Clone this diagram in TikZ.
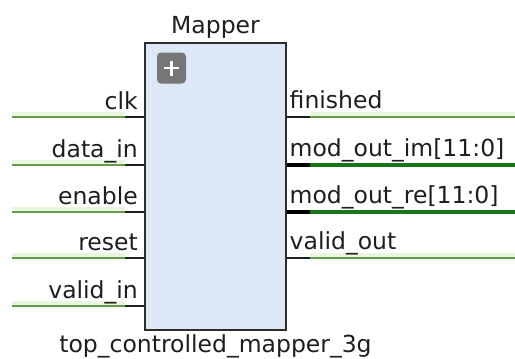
\documentclass[tikz,border=0pt]{standalone}
\usepackage{fontspec}
\setmainfont{DejaVu Sans}
\usetikzlibrary{calc}
\definecolor{boxfill}{RGB}{221,232,246}
\definecolor{boxline}{RGB}{45,45,45}
\definecolor{wiregreen}{RGB}{100,156,76}
\definecolor{wireglow}{RGB}{234,245,224}
\definecolor{busgreen}{RGB}{24,118,24}
\definecolor{stubdark}{RGB}{30,30,30}
\definecolor{btngray}{RGB}{118,118,118}
\definecolor{labeltext}{RGB}{30,30,30}
\tikzset{
  lbl/.style={font=\fontsize{23.5}{28}\selectfont, inner sep=0pt, text=labeltext},
  blockbox/.style={draw=boxline, line width=1.4pt, fill=boxfill},
  wire/.style={draw=wiregreen, line width=1.6pt},
  glow/.style={draw=wireglow, line width=4pt},
  stub/.style={draw=stubdark, line width=1.6pt},
  buswire/.style={draw=busgreen, line width=3.5pt},
  busstub/.style={draw=black, line width=3.5pt},
}
\begin{document}
\begin{tikzpicture}[x=1pt,y=-1pt]
\useasboundingbox (0,0) rectangle (515,359);

% the block
\node[blockbox, minimum width=141pt, minimum height=287pt] (blk) at (215.5,186.5) {};
\node[lbl, anchor=base] (title) at (215.5,33) {Mapper};
\node[lbl, anchor=base] (inst) at (215.5,352) {top\_controlled\_mapper\_3g};

% expand button
\node[fill=btngray, rounded corners=4pt, minimum width=29pt, minimum height=31pt, inner sep=0pt] (btn) at (171.5,68) {};
\draw[white, line width=2.2pt] ($(btn.center)+(-7.5,0)$) -- ($(btn.center)+(7.5,0)$);
\draw[white, line width=2.2pt] ($(btn.center)+(0,-7.5)$) -- ($(btn.center)+(0,7.5)$);

% input ports
\foreach \nm/\txt/\yy in {clk/clk/117, din/data\_in/165, en/enable/212, rst/reset/258, vin/valid\_in/306}{
  \coordinate (w\nm) at (12,\yy);
  \coordinate (s\nm) at (125,\yy);
  \coordinate (p\nm) at (145,\yy);
  \draw[glow] ($(w\nm)+(0,-3)$) -- ($(s\nm)+(0,-3)$);
  \draw[wire] (w\nm) -- (s\nm);
  \draw[stub] (s\nm) -- (p\nm);
  \node[lbl, anchor=base east] (l\nm) at (138,\yy-7.5) {\txt};
}

% single-bit outputs
\foreach \nm/\txt/\yy in {fin/finished/117, vout/valid\_out/258}{
  \coordinate (p\nm) at (286,\yy);
  \coordinate (s\nm) at (310,\yy);
  \coordinate (w\nm) at (515,\yy);
  \draw[glow] ($(s\nm)+(0,-3)$) -- ($(w\nm)+(0,-3)$);
  \draw[stub] (p\nm) -- (s\nm);
  \draw[wire] (s\nm) -- (w\nm);
  \node[lbl, anchor=base west] (l\nm) at (289.5,\yy-9) {\txt};
}

% bus outputs
\foreach \nm/\txt/\yy in {im/mod\_out\_im[11:0]/165, re/mod\_out\_re[11:0]/212}{
  \coordinate (p\nm) at (286,\yy);
  \coordinate (s\nm) at (310,\yy);
  \coordinate (w\nm) at (515,\yy);
  \draw[busstub] (p\nm) -- (s\nm);
  \draw[buswire] (s\nm) -- (w\nm);
  \node[lbl, anchor=base west] (l\nm) at (289.5,\yy-9) {\txt};
}

% redraw the block outline over the wire ends
\draw[draw=boxline, line width=1.4pt] (blk.north west) rectangle (blk.south east);
\end{tikzpicture}
\end{document}
